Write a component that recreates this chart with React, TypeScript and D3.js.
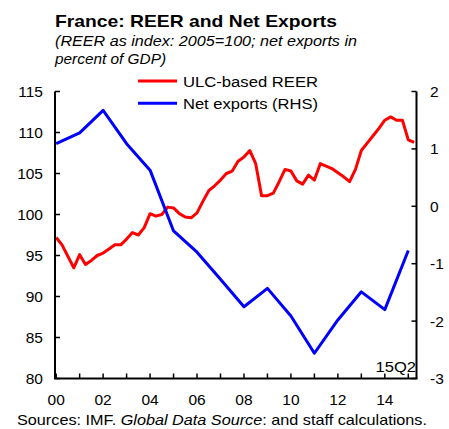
import React from "react";
import * as d3 from "d3";

const years = [2000, 2001, 2002, 2003, 2004, 2005, 2006, 2007, 2008, 2009, 2010, 2011, 2012, 2013, 2014, 2015];
const netExports = [1.09, 1.28, 1.67, 1.09, 0.63, -0.43, -0.8, -1.27, -1.75, -1.43, -1.91, -2.56, -1.98, -1.49, -1.8, -0.77];

const reerStartYear = 2000;
const reer = [
  97.2, 96.3, 94.9, 93.5, 95.1, 93.9, 94.4, 95.0, 95.3, 95.8, 96.3, 96.3, 97.0, 97.8, 97.5, 98.4,
  100.1, 99.8, 100.0, 100.9, 100.8, 100.1, 99.7, 99.6, 100.2, 101.6, 102.9, 103.5, 104.2, 105.0, 105.3, 106.5,
  107.0, 107.8, 106.2, 102.3, 102.3, 102.6, 104.0, 105.5, 105.3, 104.1, 103.7, 104.8, 104.2, 106.2, 105.9, 105.6,
  105.1, 104.6, 104.0, 105.5, 107.8, 108.7, 109.6, 110.5, 111.5, 111.9, 111.5, 111.5, 109.1, 108.8,
];

const leftTicks = [80, 85, 90, 95, 100, 105, 110, 115];
const rightTicks = [-3, -2, -1, 0, 1, 2];
const xLabelYears = [2000, 2002, 2004, 2006, 2008, 2010, 2012, 2014];
const xTickYears = years;

const title = "France: REER and Net Exports";
const subtitle1 = "(REER as index: 2005=100; net exports in";
const subtitle2 = "percent of GDP)";
const legendItems = [
  { label: "ULC-based REER", color: "#ff0000" },
  { label: "Net exports (RHS)", color: "#0000ff" },
];
const endLabel = "15Q2";

export default function App() {
  const W = 449;
  const H = 429;
  const left = 55;
  const right = 416.5;
  const top = 91.5;
  const bottom = 378.5;

  const x = d3.scaleLinear().domain([1999.95, 2015.35]).range([left, right]);
  const yL = d3.scaleLinear().domain([80, 115]).range([bottom, top]);
  const yR = d3.scaleLinear().domain([-3, 2]).range([bottom, top]);

  const reerPts = reer.map((v, i) => [reerStartYear + i / 4, v] as [number, number]);
  const redPath = d3
    .line<[number, number]>()
    .x((d) => x(d[0]))
    .y((d) => yL(d[1]))(reerPts) as string;
  const bluePath = d3
    .line<number>()
    .x((_, i) => x(years[i]))
    .y((d) => yR(d))(netExports) as string;

  const font = "'Liberation Sans', Arial, sans-serif";

  return (
    <svg width={W} height={H} style={{ position: "absolute", left: 0, top: 0, background: "#fff" }} fontFamily={font}>
      <rect width={W} height={H} fill="#fff" />
      <text x={55} y={26.5} fontSize={17} fontWeight="bold" textLength={282} lengthAdjust="spacingAndGlyphs">
        {title}
      </text>
      <text x={55} y={46} fontSize={14.5} fontStyle="italic" textLength={302} lengthAdjust="spacingAndGlyphs">
        {subtitle1}
      </text>
      <text x={55} y={64} fontSize={14.5} fontStyle="italic" textLength={111} lengthAdjust="spacingAndGlyphs">
        {subtitle2}
      </text>

      {/* lines */}
      <path d={redPath} fill="none" stroke="#ff0000" strokeWidth={3} strokeLinejoin="round" />
      <path d={bluePath} fill="none" stroke="#0000ff" strokeWidth={3} strokeLinejoin="round" />

      {/* legend */}
      {legendItems.map((it, i) => (
        <g key={it.label}>
          <line x1={138} x2={177} y1={81 + i * 22.3} y2={81 + i * 22.3} stroke={it.color} strokeWidth={3} />
          <text x={183} y={86.5 + i * 22.3} fontSize={15.5} textLength={135} lengthAdjust="spacingAndGlyphs">
            {it.label}
          </text>
        </g>
      ))}

      {/* axes */}
      <line x1={left} x2={left} y1={top} y2={bottom} stroke="#000" strokeWidth={2} />
      <line x1={right} x2={right} y1={top} y2={bottom} stroke="#000" strokeWidth={2} />
      <line x1={left - 1} x2={right + 1} y1={bottom} y2={bottom} stroke="#000" strokeWidth={2} />

      {leftTicks.map((t) => (
        <g key={"l" + t}>
          <line x1={left} x2={left + 5} y1={yL(t)} y2={yL(t)} stroke="#000" strokeWidth={1.5} />
          <text x={43} y={yL(t) + 5.5} fontSize={15.5} textAnchor="end">
            {t}
          </text>
        </g>
      ))}
      {rightTicks.map((t) => (
        <g key={"r" + t}>
          <line x1={right - 5} x2={right} y1={yR(t)} y2={yR(t)} stroke="#000" strokeWidth={1.5} />
          <text x={430} y={yR(t) + 5.5} fontSize={15.5} textAnchor="start">
            {t}
          </text>
        </g>
      ))}
      {xTickYears.map((t) => (
        <line key={"x" + t} x1={x(t)} x2={x(t)} y1={bottom} y2={bottom - 5} stroke="#000" strokeWidth={1.5} />
      ))}
      {xLabelYears.map((t) => (
        <text key={"xl" + t} x={x(t)} y={405} fontSize={15.5} textAnchor="middle">
          {String(t % 100).padStart(2, "0")}
        </text>
      ))}

      <text x={375.5} y={371.5} fontSize={15} textLength={40.5} lengthAdjust="spacingAndGlyphs">
        {endLabel}
      </text>

      <text x={17} y={425} fontSize={15} textLength={410} lengthAdjust="spacingAndGlyphs">
        Sources: IMF. <tspan fontStyle="italic">Global Data Source</tspan>: and staff calculations.
      </text>
    </svg>
  );
}
